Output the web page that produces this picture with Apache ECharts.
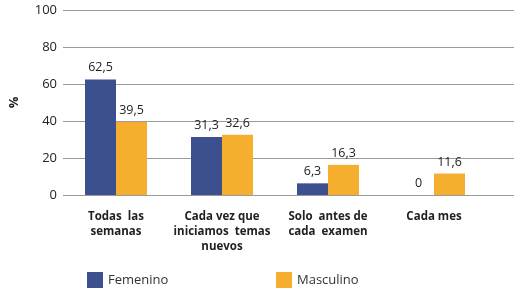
<!DOCTYPE html>
<html><head><meta charset="utf-8">
<script src="https://cdn.jsdelivr.net/npm/echarts@6/dist/echarts.min.js"></script>
<style>html,body{margin:0;padding:0;background:#fff}#c{width:524px;height:293px}</style>
</head><body><div id="c"></div>
<script>
const categories = ["Todas  las\nsemanas", "Cada vez que\niniciamos  temas\nnuevos", "Solo  antes de\ncada  examen", "Cada mes"];
const femenino = [62.5, 31.3, 6.3, 0];
const masculino = [39.5, 32.6, 16.3, 11.6];
const yTicks = [0, 20, 40, 60, 80, 100];
const FONT = "Open Sans";
const chart = echarts.init(document.getElementById('c'), null, {renderer: 'canvas'});
const fmt = p => String(p.value).replace('.', ',');
chart.setOption({
  animation: false,
  textStyle: {fontFamily: FONT},
  grid: [
    {left: 63, right: 10, top: 10, bottom: 98},
    {left: 63, width: 424, top: 10, bottom: 98}
  ],
  xAxis: [
    {gridIndex: 0, type: 'category', data: categories, show: false},
    {gridIndex: 1, type: 'category', data: categories,
     axisLine: {show: false}, axisTick: {show: false},
     axisLabel: {interval: 0, color: '#222', fontWeight: 'bold', fontSize: 11.5, lineHeight: 15, margin: 14, fontFamily: FONT}}
  ],
  yAxis: [
    {gridIndex: 0, type: 'value', min: yTicks[0], max: yTicks[yTicks.length - 1], interval: 20,
     name: '%', nameLocation: 'middle', nameGap: 42, nameRotate: 90,
     nameTextStyle: {color: '#222', fontWeight: 'bold', fontSize: 13, fontFamily: FONT},
     axisLine: {show: false}, axisTick: {show: false},
     axisLabel: {color: '#222', fontSize: 13, margin: 6, fontFamily: FONT},
     splitLine: {lineStyle: {color: '#9a9a9a', width: 1}}},
    {gridIndex: 1, type: 'value', min: 0, max: 100, interval: 20, show: false, splitLine: {show: false}}
  ],
  legend: [
    {data: ['Femenino'], left: 82, top: 267, itemWidth: 16, itemHeight: 16, itemGap: 0,
     textStyle: {fontSize: 13, color: '#333', fontFamily: FONT, padding: [4, 0, 0, 0]}, icon: 'rect'},
    {data: ['Masculino'], left: 271, top: 267, itemWidth: 16, itemHeight: 16, itemGap: 0,
     textStyle: {fontSize: 13, color: '#333', fontFamily: FONT, padding: [4, 0, 0, 0]}, icon: 'rect'}
  ],
  series: [
    {name: 'Femenino', type: 'bar', xAxisIndex: 1, yAxisIndex: 1, data: femenino,
     barWidth: 31, barGap: '0%', itemStyle: {color: '#3c4f8e'},
     label: {show: true, position: 'top', distance: 5, formatter: fmt, color: '#222', fontSize: 12.5, fontFamily: FONT}},
    {name: 'Masculino', type: 'bar', xAxisIndex: 1, yAxisIndex: 1, data: masculino,
     barWidth: 31, barGap: '0%', itemStyle: {color: '#f6ae2e'},
     label: {show: true, position: 'top', distance: 5, formatter: fmt, color: '#222', fontSize: 12.5, fontFamily: FONT}}
  ]
});
</script></body></html>
